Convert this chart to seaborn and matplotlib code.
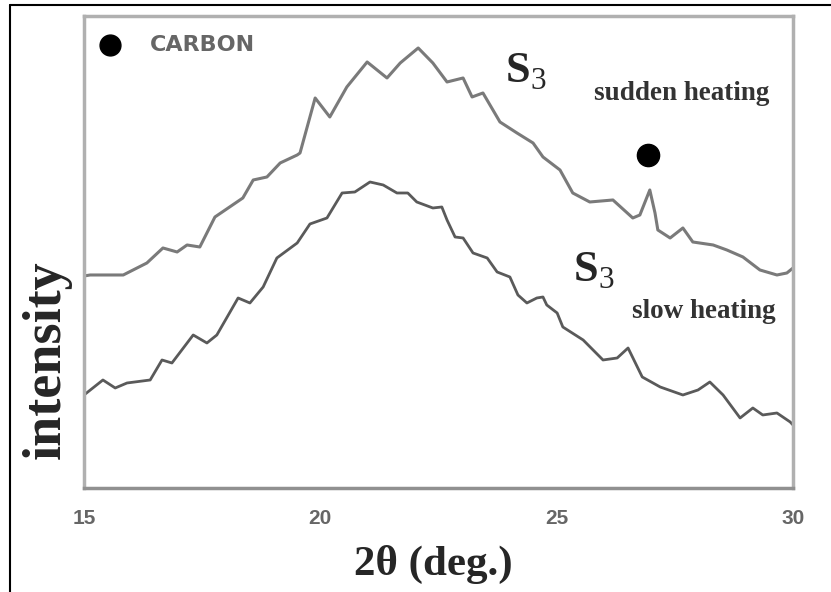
import numpy as np
import matplotlib
matplotlib.use("Agg")
import matplotlib.pyplot as plt
from matplotlib.lines import Line2D
import seaborn as sns

# 2theta (deg.) and intensity (arb. units)
sudden_x = [15.00, 15.13, 15.83, 16.33, 16.67, 16.97, 17.18, 17.45, 17.77, 18.36,
            18.58, 18.87, 19.15, 19.51, 19.57, 19.89, 20.20, 20.56, 20.99, 21.41,
            21.69, 22.07, 22.38, 22.68, 23.02, 23.21, 23.44, 23.80, 24.16, 24.50,
            24.71, 25.07, 25.34, 25.70, 26.19, 26.61, 26.76, 26.97, 27.08, 27.14,
            27.40, 27.67, 27.88, 28.31, 28.60, 28.94, 29.30, 29.66, 29.87, 30.00]
sudden_y = [212, 213, 213, 225, 240, 236, 243, 241, 271, 290,
            308, 311, 325, 333, 335, 390, 371, 401, 426, 410,
            425, 440, 425, 406, 410, 391, 395, 366, 355, 345,
            331, 318, 295, 286, 288, 270, 273, 298, 275, 258,
            250, 260, 246, 243, 238, 231, 218, 213, 215, 220]

slow_x = [15.00, 15.40, 15.66, 15.91, 16.40, 16.65, 16.86, 17.31, 17.60, 17.81,
          18.26, 18.51, 18.79, 19.08, 19.51, 19.78, 20.14, 20.46, 20.73, 21.05,
          21.33, 21.62, 21.85, 22.04, 22.38, 22.57, 22.68, 22.85, 23.02, 23.23,
          23.53, 23.74, 24.01, 24.18, 24.37, 24.58, 24.71, 24.79, 25.01, 25.13,
          25.56, 25.98, 26.28, 26.51, 26.81, 27.19, 27.67, 27.99, 28.24, 28.52,
          28.88, 29.15, 29.36, 29.66, 29.94, 30.00]
slow_y = [93, 108, 100, 105, 108, 128, 125, 153, 145, 153,
          190, 185, 201, 230, 245, 264, 270, 295, 296, 306,
          303, 295, 295, 286, 280, 281, 268, 251, 250, 235,
          230, 216, 211, 193, 185, 190, 191, 183, 175, 161,
          148, 128, 130, 140, 111, 101, 93, 98, 106, 93,
          70, 80, 73, 75, 66, 63]

x_ticks = [15, 20, 25, 30]
carbon_peak = (26.93, 333)

sns.set_style("white")
plt.rcParams['font.family'] = ['Liberation Serif', 'DejaVu Serif']
plt.rcParams['mathtext.fontset'] = 'custom'
plt.rcParams['mathtext.rm'] = 'Liberation Serif'
plt.rcParams['mathtext.bf'] = 'Liberation Serif:bold'

fig = plt.figure(figsize=(8.31, 5.92), dpi=100)
ax = fig.add_axes([0.1011, 0.1757, 0.8532, 0.7973])

sns.lineplot(x=sudden_x, y=sudden_y, ax=ax, color='#7a7a7a', lw=2.2, estimator=None)
sns.lineplot(x=slow_x, y=slow_y, ax=ax, color='#5a5a5a', lw=2.0, estimator=None)

ax.set_xlim(15, 30)
ax.set_ylim(0, 472)
ax.set_xticks(x_ticks)
ax.set_xticklabels([str(t) for t in x_ticks], fontfamily='Liberation Sans',
                   fontweight='bold', fontsize=15, color='#666666')
ax.set_yticks([])
ax.tick_params(axis='x', direction='in', length=8, width=1.6, color='#222222', pad=15)

for side in ['top', 'left', 'right']:
    ax.spines[side].set_color('#b0b0b0')
    ax.spines[side].set_linewidth(2.5)
ax.spines['bottom'].set_color('#909090')
ax.spines['bottom'].set_linewidth(2.5)

ax.set_xlabel('2θ (deg.)', fontsize=31, fontweight='bold', va='center')
ax.xaxis.set_label_coords(0.492, -0.163)
ax.set_ylabel('intensity', fontsize=39, fontweight='bold', va='center')
ax.yaxis.set_label_coords(-0.052, 0.271)

# legend-like marker + labels
ax.plot(15.55, 443, 'o', color='black', ms=15)
ax.text(16.40, 443, 'CARBON', fontfamily='DejaVu Sans', fontweight='bold',
        fontsize=16, color='#666666', va='center', ha='left')
ax.plot(*carbon_peak, 'o', color='black', ms=16)

ax.text(23.91, 416, r'$\mathbf{S}_{3}$', fontsize=32, va='center', ha='left')
ax.text(27.65, 394, 'sudden heating', fontsize=19.5, fontweight='bold',
        color='#333333', va='center', ha='center')

ax.text(25.34, 217, r'$\mathbf{S}_{3}$', fontsize=32, va='center', ha='left')
ax.text(28.12, 176, 'slow heating', fontsize=19.5, fontweight='bold',
        color='#333333', va='center', ha='center')

# outer picture frame (top and left edges)
fig.add_artist(Line2D([0.012, 1.0], [0.9916, 0.9916], color='black', lw=1.5))
fig.add_artist(Line2D([0.012, 0.012], [0.0, 0.9916], color='black', lw=1.5))

fig.savefig('out.png', dpi=100)
